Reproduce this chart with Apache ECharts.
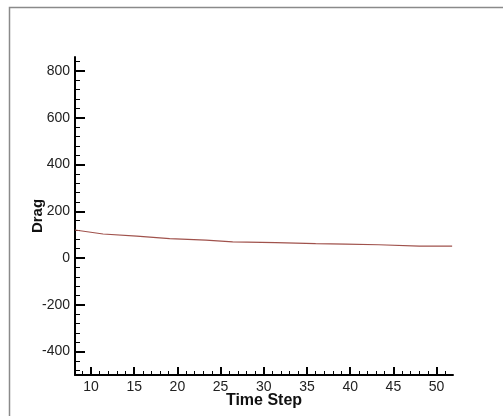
<!DOCTYPE html>
<html>
<head>
<meta charset="utf-8">
<script src="https://cdn.jsdelivr.net/npm/echarts@6/dist/echarts.min.js"></script>
<style>
html,body{margin:0;padding:0;background:#fff;}
#chart{width:503px;height:416px;}
</style>
</head>
<body>
<div id="chart"></div>
<script>
// Data
const timeSteps = [8.15, 11.4, 15.3, 19.1, 23.3, 26.4, 31.4, 36.0, 39.5, 43.3, 48.0, 51.8];
const drag = [120, 103, 94, 83, 77, 69, 66, 62, 60, 57, 51, 51];
const yMajorTicks = [-400, -200, 0, 200, 400, 600, 800];
const yMinorTicks = [-480, -440, -360, -320, -280, -240, -160, -120, -80, -40, 40, 80, 120, 160, 240, 280, 320, 360, 440, 480, 520, 560, 640, 680, 720, 760, 840];
const xMajorTicks = [10, 15, 20, 25, 30, 35, 40, 45, 50];
const xMinorTicks = [9, 11, 12, 13, 14, 16, 17, 18, 19, 21, 22, 23, 24, 26, 27, 28, 29, 31, 32, 33, 34, 36, 37, 38, 39, 41, 42, 43, 44, 46, 47, 48, 49, 51];

const chart = echarts.init(document.getElementById('chart'), null, {renderer: 'canvas'});
const font = 'Liberation Sans, Arial, sans-serif';
const xMin = 8.15, xMax = 51.9, yMin = -500, yMax = 860;

const option = {
  backgroundColor: '#fff',
  animation: false,
  graphic: [{
    type: 'rect',
    shape: {x: 9.5, y: 7.5, width: 600, height: 500},
    style: {fill: 'none', stroke: '#8a8a8a', lineWidth: 1.5},
    silent: true
  }],
  grid: {left: 75, top: 57, right: 50, bottom: 41, containLabel: false},
  xAxis: [{
    type: 'value', min: xMin, max: xMax,
    name: 'Time Step', nameLocation: 'middle', nameGap: 18, nameMoveOverlap: false,
    nameTextStyle: {fontFamily: font, fontWeight: 'bold', fontSize: 16, color: '#111'},
    axisLine: {show: true, onZero: false, lineStyle: {color: '#000', width: 2}},
    axisTick: {show: true, inside: true, length: 8, customValues: xMajorTicks, lineStyle: {color: '#000', width: 2}},
    axisLabel: {show: true, customValues: xMajorTicks, margin: 5, fontFamily: font, fontSize: 14, color: '#222'},
    splitLine: {show: false}
  }, {
    type: 'value', min: xMin, max: xMax, position: 'bottom',
    axisLine: {show: false, onZero: false},
    axisTick: {show: true, inside: true, length: 4, customValues: xMinorTicks, lineStyle: {color: '#000', width: 1}},
    axisLabel: {show: false},
    splitLine: {show: false}
  }],
  yAxis: [{
    type: 'value', min: yMin, max: yMax,
    name: 'Drag', nameLocation: 'middle', nameGap: 30, nameRotate: 90, nameMoveOverlap: false,
    nameTextStyle: {fontFamily: font, fontWeight: 'bold', fontSize: 15, color: '#111'},
    axisLine: {show: true, onZero: false, lineStyle: {color: '#000', width: 2}},
    axisTick: {show: true, inside: true, length: 10, customValues: yMajorTicks, lineStyle: {color: '#000', width: 2}},
    axisLabel: {show: true, customValues: yMajorTicks, margin: 5, fontFamily: font, fontSize: 14, color: '#222'},
    splitLine: {show: false}
  }, {
    type: 'value', min: yMin, max: yMax, position: 'left',
    axisLine: {show: false, onZero: false},
    axisTick: {show: true, inside: true, length: 5, customValues: yMinorTicks, lineStyle: {color: '#000', width: 1}},
    axisLabel: {show: false},
    splitLine: {show: false}
  }],
  series: [{
    type: 'line',
    xAxisIndex: 0, yAxisIndex: 0,
    data: timeSteps.map((t, i) => [t, drag[i]]),
    showSymbol: false,
    smooth: false,
    lineStyle: {color: '#a0524c', width: 1.2},
    clip: true
  }]
};
chart.setOption(option);
</script>
</body>
</html>
